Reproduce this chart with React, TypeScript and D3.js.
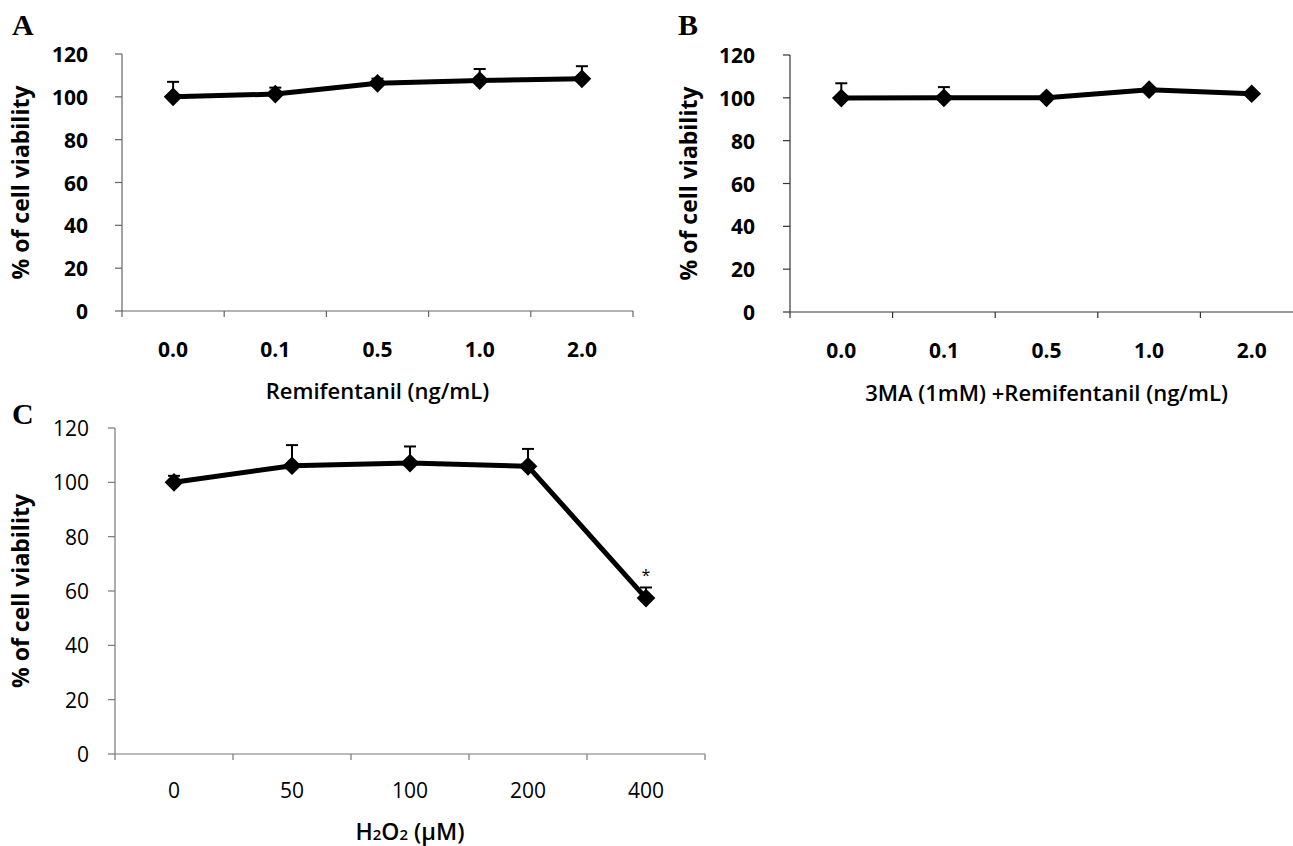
import React from "react";
import * as d3 from "d3";

const Y_TICKS = [0, 20, 40, 60, 80, 100, 120];

const A_CATS = ["0.0", "0.1", "0.5", "1.0", "2.0"];
const A_MEAN = [100, 101.3, 106.3, 107.6, 108.4];
const A_ERR = [7, 3, 2.2, 5.4, 5.9];

const B_CATS = ["0.0", "0.1", "0.5", "1.0", "2.0"];
const B_MEAN = [99.9, 100, 100, 103.8, 101.9];
const B_ERR = [6.9, 5, 0.6, 1, 0.5];

const C_CATS = ["0", "50", "100", "200", "400"];
const C_MEAN = [100, 106.1, 107.1, 105.9, 57.4];
const C_ERR = [2.4, 7.6, 6.1, 6.4, 3.9];
const C_SIG = ["", "", "", "", "*"];

const FONT = "'Open Sans', 'Noto Sans', sans-serif";

type PanelProps = {
  letter: string;
  letterX: number;
  letterY: number;
  cats: string[];
  mean: number[];
  err: number[];
  sig?: string[];
  left: number;
  right: number;
  top: number;
  bottom: number;
  tickBold: boolean;
  tickSize: number;
  labelGap: number;
  xLabelY: number;
  xTitle: React.ReactNode;
  xTitleY: number;
  xTitleSize: number;
  yTitleX: number;
  axisColor: string;
};

function Panel(p: PanelProps) {
  const x = d3.scaleBand<string>().domain(p.cats).range([p.left, p.right]);
  const y = d3.scaleLinear().domain([0, 120]).range([p.bottom, p.top]);
  const pts = p.cats.map((c, i) => [x(c)! + x.bandwidth() / 2, y(p.mean[i])] as [number, number]);
  const line = d3.line()(pts) || "";
  const diamond = d3.symbol().type(d3.symbolSquare).size(175)() || "";
  const edges = p.cats.map((c) => x(c)!).concat([p.right]);
  const yMid = (p.top + p.bottom) / 2;
  return (
    <g>
      <text x={p.letterX} y={p.letterY} fontFamily="'Liberation Serif', 'Times New Roman', serif" fontWeight="bold" fontSize={30}>
        {p.letter}
      </text>
      <line x1={p.left} x2={p.left} y1={p.top} y2={p.bottom} stroke={p.axisColor} strokeWidth={1.2} />
      <line x1={p.left} x2={p.right} y1={p.bottom} y2={p.bottom} stroke={p.axisColor} strokeWidth={1.2} />
      {Y_TICKS.map((t) => (
        <g key={t}>
          <line x1={p.left - 7} x2={p.left} y1={y(t)} y2={y(t)} stroke={p.axisColor} strokeWidth={1.2} />
          <text
            x={p.left - p.labelGap}
            y={y(t)}
            textAnchor="end"
            dominantBaseline="central"
            fontFamily={FONT}
            fontWeight={p.tickBold ? "bold" : "normal"}
            fontSize={p.tickSize}
          >
            {t}
          </text>
        </g>
      ))}
      {edges.map((e, i) => (
        <line key={i} x1={e} x2={e} y1={p.bottom} y2={p.bottom + 6} stroke={p.axisColor} strokeWidth={1.2} />
      ))}
      {p.cats.map((c) => (
        <text
          key={c}
          x={x(c)! + x.bandwidth() / 2}
          y={p.xLabelY}
          textAnchor="middle"
          fontFamily={FONT}
          fontWeight={p.tickBold ? "bold" : "normal"}
          fontSize={p.tickSize}
        >
          {c}
        </text>
      ))}
      <text
        x={(p.left + p.left + x.step() * p.cats.length) / 2}
        y={p.xTitleY}
        textAnchor="middle"
        fontFamily={FONT}
        fontWeight={600}
        fontSize={p.xTitleSize}
      >
        {p.xTitle}
      </text>
      <text
        transform={`translate(${p.yTitleX},${yMid}) rotate(-90)`}
        textAnchor="middle"
        dominantBaseline="central"
        fontFamily={FONT}
        fontWeight="bold"
        fontSize={23}
      >
        % of cell viability
      </text>
      {pts.map(([px, py], i) => {
        const ty = y(p.mean[i] + p.err[i]);
        return (
          <g key={i}>
            <line x1={px} x2={px} y1={py} y2={ty} stroke="#000" strokeWidth={2} />
            <line x1={px - 6} x2={px + 6} y1={ty} y2={ty} stroke="#000" strokeWidth={2} />
          </g>
        );
      })}
      <path d={line} fill="none" stroke="#000" strokeWidth={5} strokeLinejoin="round" />
      {pts.map(([px, py], i) => (
        <path key={i} d={diamond} transform={`translate(${px},${py}) rotate(45)`} fill="#000" />
      ))}
      {p.sig &&
        pts.map(([px], i) =>
          p.sig![i] ? (
            <text key={i} x={px} y={y(p.mean[i] + p.err[i]) - 6} textAnchor="middle" fontFamily={FONT} fontSize={16}>
              {p.sig![i]}
            </text>
          ) : null
        )}
    </g>
  );
}

export default function App() {
  return (
    <div style={{ position: "absolute", left: 0, top: 0 }}>
      <svg width={1293} height={846} style={{ display: "block", background: "#fff" }}>
        <Panel
          letter="A"
          letterX={12}
          letterY={35}
          cats={A_CATS}
          mean={A_MEAN}
          err={A_ERR}
          left={122}
          right={633}
          top={54}
          bottom={311}
          tickBold={true}
          tickSize={21}
          labelGap={34}
          xLabelY={357}
          xTitle="Remifentanil (ng/mL)"
          xTitleY={399}
          xTitleSize={22}
          yTitleX={20}
          axisColor="#666"
        />
        <Panel
          letter="B"
          letterX={678}
          letterY={35}
          cats={B_CATS}
          mean={B_MEAN}
          err={B_ERR}
          left={790}
          right={1303}
          top={55}
          bottom={312}
          tickBold={true}
          tickSize={21}
          labelGap={35}
          xLabelY={358}
          xTitle="3MA (1mM) +Remifentanil (ng/mL)"
          xTitleY={401}
          xTitleSize={22}
          yTitleX={688}
          axisColor="#333"
        />
        <Panel
          letter="C"
          letterX={12}
          letterY={424}
          cats={C_CATS}
          mean={C_MEAN}
          err={C_ERR}
          sig={C_SIG}
          left={115}
          right={705}
          top={428}
          bottom={754}
          tickBold={false}
          tickSize={21}
          labelGap={26}
          xLabelY={798}
          xTitle={
            <>
              H
              <tspan fontSize={15}>2</tspan>O<tspan fontSize={15}>2</tspan> (μM)
            </>
          }
          xTitleY={840}
          xTitleSize={23}
          yTitleX={20}
          axisColor="#777"
        />
      </svg>
    </div>
  );
}
